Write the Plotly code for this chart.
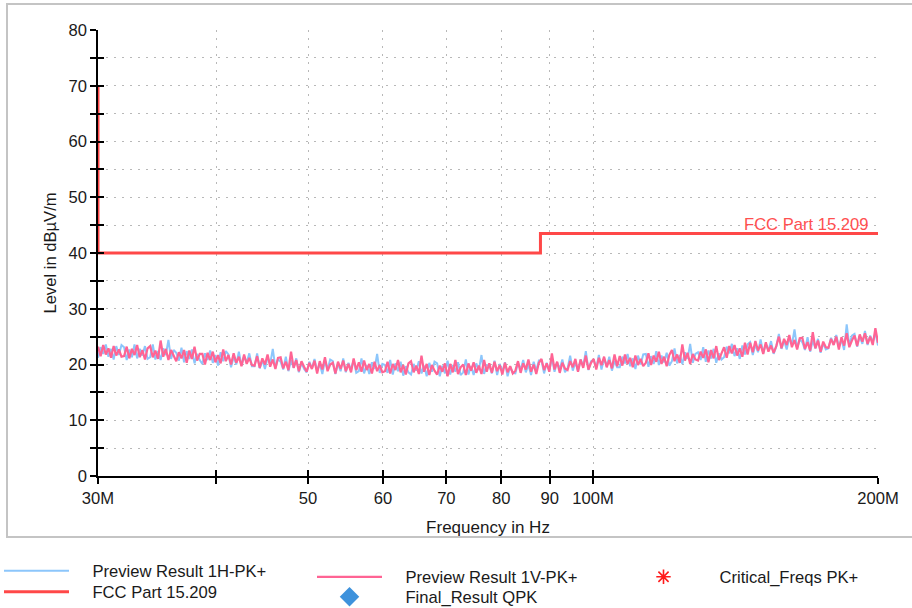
import numpy as np
import plotly.graph_objects as go

# ---- sweep data -----------------------------------------------------------
F_START = 30e6
F_STOP = 200e6
N_POINTS = 300
freq = np.geomspace(F_START, F_STOP, N_POINTS)

# Preview Result 1H-PK+ (dBuV/m)
level_1h = [
    21.2, 23.1, 21.9, 23.6, 21.4, 22.8, 20.9, 23.3, 21.7, 23.5,
    23.1, 20.8, 22.7, 21.3, 23.6, 21.1, 22.8, 21.6, 23.3, 21.0,
    21.3, 23.6, 20.9, 22.4, 20.8, 22.9, 21.7, 24.4, 21.0, 22.6,
    22.1, 20.7, 23.0, 20.4, 22.4, 21.0, 22.7, 20.2, 21.9, 20.8,
    20.1, 22.0, 20.8, 22.5, 20.3, 21.7, 19.8, 22.2, 20.6, 22.4,
    21.8, 19.5, 21.4, 20.0, 22.3, 19.8, 21.5, 20.3, 22.0, 19.7,
    19.7, 22.0, 19.3, 20.8, 19.2, 21.3, 20.1, 22.8, 19.4, 21.0,
    20.5, 19.1, 21.4, 18.8, 20.8, 19.4, 21.1, 18.6, 20.3, 19.2,
    18.6, 20.5, 19.3, 21.0, 18.8, 20.2, 18.3, 20.7, 19.1, 20.9,
    20.6, 18.3, 20.2, 18.8, 21.1, 18.6, 20.3, 19.1, 20.8, 18.5,
    18.8, 21.1, 18.4, 19.9, 18.3, 20.4, 19.2, 21.9, 18.5, 20.1,
    19.9, 18.5, 20.8, 18.2, 20.2, 18.8, 20.5, 18.0, 19.7, 18.6,
    18.2, 20.1, 18.9, 20.6, 18.4, 19.8, 17.9, 20.3, 18.7, 20.5,
    20.2, 17.9, 19.8, 18.4, 20.7, 18.2, 19.9, 18.7, 20.4, 18.1,
    18.6, 20.9, 18.2, 19.7, 18.1, 20.2, 19.0, 21.7, 18.3, 19.9,
    19.8, 18.4, 20.7, 18.1, 20.1, 18.7, 20.4, 17.9, 19.6, 18.5,
    18.4, 20.3, 19.1, 20.8, 18.6, 20.0, 18.1, 20.5, 18.9, 20.7,
    20.7, 18.4, 20.3, 18.9, 21.2, 18.7, 20.4, 19.2, 20.9, 18.6,
    19.3, 21.6, 18.9, 20.4, 18.8, 20.9, 19.7, 22.4, 19.0, 20.6,
    20.8, 19.4, 21.7, 19.1, 21.1, 19.7, 21.4, 18.9, 20.6, 19.5,
    19.5, 21.4, 20.2, 21.9, 19.7, 21.1, 19.2, 21.6, 20.0, 21.8,
    21.9, 19.6, 21.5, 20.1, 22.4, 19.9, 21.6, 20.4, 22.1, 19.8,
    20.6, 22.9, 20.2, 21.7, 20.1, 22.2, 21.0, 23.7, 20.3, 21.9,
    22.2, 20.8, 23.1, 20.5, 22.5, 21.1, 22.8, 20.3, 22.0, 20.9,
    21.3, 23.2, 22.0, 23.7, 21.5, 22.9, 21.0, 23.4, 21.8, 23.6,
    24.0, 21.7, 23.6, 22.2, 24.5, 22.0, 23.7, 22.5, 24.2, 21.9,
    23.2, 25.5, 22.8, 24.3, 22.7, 24.8, 23.6, 26.3, 22.9, 24.5,
    24.0, 22.6, 24.9, 22.3, 24.3, 22.9, 24.6, 22.1, 23.8, 22.7,
    22.9, 24.8, 23.6, 25.3, 23.1, 24.5, 22.6, 27.2, 23.4, 25.2,
    25.5, 23.2, 25.1, 23.7, 26.0, 23.5, 25.2, 24.0, 25.7, 23.4,
]

# Preview Result 1V-PK+ (dBuV/m)
level_1v = [
    23.2, 21.5, 23.5, 21.8, 22.9, 21.2, 23.3, 21.6, 22.7, 21.4,
    21.5, 23.2, 21.1, 22.8, 21.7, 23.5, 21.3, 22.6, 20.9, 22.9,
    23.3, 21.3, 22.5, 21.0, 24.3, 21.4, 22.8, 20.8, 22.6, 21.6,
    20.6, 22.2, 21.1, 22.6, 20.3, 22.5, 21.0, 23.2, 20.7, 21.9,
    21.9, 20.0, 22.1, 20.8, 22.3, 20.4, 21.7, 20.2, 22.7, 20.6,
    21.7, 20.0, 22.0, 20.3, 21.4, 19.7, 21.8, 20.1, 21.2, 19.9,
    19.8, 21.5, 19.4, 21.1, 20.0, 21.8, 19.6, 20.9, 19.2, 21.2,
    21.3, 19.3, 20.5, 19.0, 22.3, 19.4, 20.8, 18.8, 20.6, 19.6,
    18.7, 20.3, 19.2, 20.7, 18.4, 20.6, 19.1, 21.3, 18.8, 20.0,
    20.3, 18.4, 20.5, 19.2, 20.7, 18.8, 20.1, 18.6, 21.1, 19.0,
    20.4, 18.7, 20.7, 19.0, 20.1, 18.4, 20.5, 18.8, 19.9, 18.6,
    18.8, 20.5, 18.4, 20.1, 19.0, 20.8, 18.6, 19.9, 18.2, 20.2,
    20.6, 18.6, 19.8, 18.3, 21.6, 18.7, 20.1, 18.1, 19.9, 18.9,
    18.2, 19.8, 18.7, 20.2, 17.9, 20.1, 18.6, 20.8, 18.3, 19.5,
    20.0, 18.1, 20.2, 18.9, 20.4, 18.5, 19.8, 18.3, 20.8, 18.7,
    20.2, 18.5, 20.5, 18.8, 19.9, 18.2, 20.3, 18.6, 19.7, 18.4,
    18.9, 20.6, 18.5, 20.2, 19.1, 20.9, 18.7, 20.0, 18.3, 20.3,
    21.0, 19.0, 20.2, 18.7, 22.0, 19.1, 20.5, 18.5, 20.3, 19.3,
    19.0, 20.6, 19.5, 21.0, 18.7, 20.9, 19.4, 21.6, 19.1, 20.3,
    21.0, 19.1, 21.2, 19.9, 21.4, 19.5, 20.8, 19.3, 21.8, 19.7,
    21.5, 19.8, 21.8, 20.1, 21.2, 19.5, 21.6, 19.9, 21.0, 19.7,
    20.3, 22.0, 19.9, 21.6, 20.5, 22.3, 20.1, 21.4, 19.7, 21.7,
    22.6, 20.6, 21.8, 20.3, 23.6, 20.7, 22.1, 20.1, 21.9, 20.9,
    20.7, 22.3, 21.2, 22.7, 20.4, 22.6, 21.1, 23.3, 20.8, 22.0,
    23.1, 21.2, 23.3, 22.0, 23.5, 21.6, 22.9, 21.4, 23.9, 21.8,
    23.9, 22.2, 24.2, 22.5, 23.6, 21.9, 24.0, 22.3, 23.4, 22.1,
    23.3, 25.0, 22.9, 24.6, 23.5, 25.3, 23.1, 24.4, 22.7, 24.7,
    24.8, 22.8, 24.0, 22.5, 25.8, 22.9, 24.3, 22.3, 24.1, 23.1,
    23.0, 24.6, 23.5, 25.0, 22.7, 24.9, 23.4, 25.6, 23.1, 24.3,
    25.2, 23.3, 25.4, 24.1, 25.6, 23.7, 25.0, 23.5, 26.5, 23.9,
]

# FCC Part 15.209 limit line (Hz, dBuV/m)
limit_freq = [30e6, 30e6, 88e6, 88e6, 200e6]
limit_level = [70.0, 40.0, 40.0, 43.5, 43.5]

# axis ticks
x_tickvals = [30e6, 40e6, 50e6, 60e6, 70e6, 80e6, 90e6, 100e6, 200e6]
x_ticktext = ["30M", "", "50", "60", "70", "80", "90", "100M", "200M"]
y_tickvals = [0, 10, 20, 30, 40, 50, 60, 70, 80]

# ---- styling --------------------------------------------------------------
FONT = "Liberation Sans, Arial, sans-serif"
TXT = "#1a1a1a"
FS = 16.6
C_1H = "#8cc6fb"
C_1V = "#ff6494"
C_LIM = "#ff4848"
GRID = "#b8b8b8"

W, H = 912, 608
ML, MR, MT, MB = 98, 34, 30, 132
PW, PH = W - ML - MR, H - MT - MB
PAD = "\u00a0" * 4  # gap between legend symbol and its label


def px_x(px):
    """page x pixel -> paper x"""
    return (px - ML) / PW


def px_y(px):
    """page y pixel -> paper y"""
    return (MT + PH - px) / PH


fig = go.Figure()

fig.add_trace(go.Scatter(
    x=freq, y=level_1h, mode="lines", name=PAD + "Preview Result 1H-PK+",
    line=dict(color=C_1H, width=2.0), legend="legend"))
fig.add_trace(go.Scatter(
    x=freq, y=level_1v, mode="lines", name=PAD + "Preview Result 1V-PK+",
    line=dict(color=C_1V, width=2.2), legend="legend2"))
fig.add_trace(go.Scatter(
    x=limit_freq, y=limit_level, mode="lines", name=PAD + "FCC Part 15.209",
    line=dict(color=C_LIM, width=3), legend="legend4"))
fig.add_trace(go.Scatter(
    x=[None], y=[None], mode="markers", name=PAD + "Final_Result QPK",
    marker=dict(symbol="diamond", size=15, color="#3e92dc"),
    legend="legend5", xaxis="x2", yaxis="y2"))
fig.add_trace(go.Scatter(
    x=[None], y=[None], mode="markers", name=PAD + "Critical_Freqs PK+",
    marker=dict(symbol="asterisk-open", size=12, color="#ff1a1a",
                line=dict(color="#ff1a1a", width=1.6)),
    legend="legend3"))

xr = [np.log10(F_START), np.log10(F_STOP)]
yr = [0, 80]

common_x = dict(type="log", range=xr, tickvals=x_tickvals, ticktext=x_ticktext,
                ticklen=6, tickwidth=1.5, tickcolor="#000", automargin=False)
common_y = dict(range=yr, tickvals=y_tickvals, ticklen=6, tickwidth=1.5,
                tickcolor="#000", automargin=False)

legend_common = dict(
    orientation="v", xanchor="left", yanchor="top",
    itemwidth=65, tracegroupgap=0, traceorder="normal",
    font=dict(size=FS, color=TXT), bgcolor="rgba(0,0,0,0)",
)

fig.update_layout(
    width=W, height=H,
    margin=dict(l=ML, r=MR, t=MT, b=MB, pad=0, autoexpand=False),
    paper_bgcolor="white", plot_bgcolor="white",
    font=dict(family=FONT, size=FS, color=TXT),
    xaxis=dict(
        **common_x, ticks="outside", layer="below traces",
        showline=True, linecolor="#000", linewidth=1.6,
        showgrid=True, gridcolor=GRID, gridwidth=1.4, griddash="2px,6px",
        zeroline=False,
        tickfont=dict(size=FS, color=TXT),
        title=dict(text="Frequency in Hz", font=dict(size=17, color=TXT), standoff=14),
    ),
    xaxis2=dict(
        **common_x, ticks="inside", overlaying="x", anchor="y",
        showticklabels=False, showgrid=False, showline=False, zeroline=False,
    ),
    yaxis=dict(
        **common_y, ticks="outside", layer="below traces",
        showline=True, linecolor="#000", linewidth=1.6,
        showgrid=True, gridcolor=GRID, gridwidth=1.4, griddash="2px,6px",
        zeroline=False,
        minor=dict(dtick=5, ticks="outside", ticklen=6, tickwidth=1.5,
                   tickcolor="#000", showgrid=True, gridcolor=GRID,
                   gridwidth=1.4, griddash="2px,6px"),
        tickfont=dict(size=FS, color=TXT),
        title=dict(text="Level in dBµV/m", font=dict(size=FS, color=TXT), standoff=8),
    ),
    yaxis2=dict(
        **common_y, ticks="inside", overlaying="y", anchor="x",
        minor=dict(dtick=5, ticks="inside", ticklen=6, tickwidth=1.5,
                   tickcolor="#000", showgrid=False),
        showticklabels=False, showgrid=False, showline=False, zeroline=False,
    ),
    showlegend=True,
    legend=dict(**legend_common, x=px_x(-1), y=px_y(553.5)),
    legend4=dict(**legend_common, x=px_x(-1), y=px_y(574.5)),
    legend2=dict(**legend_common, x=px_x(312), y=px_y(559.5)),
    legend5=dict(**legend_common, x=px_x(312), y=px_y(579.5)),
    legend3=dict(**legend_common, x=px_x(626), y=px_y(559.5)),
)

# label for the limit line
fig.add_annotation(
    x=np.log10(F_STOP), y=limit_level[-1], xref="x", yref="y",
    text="FCC Part 15.209", showarrow=False,
    xanchor="right", yanchor="middle", xshift=-7, yshift=9,
    font=dict(size=FS, color="#ff5050"),
)

# outer frame around the chart region
fig.add_shape(
    type="rect", xref="paper", yref="paper", layer="below",
    x0=px_x(7), x1=px_x(914), y0=px_y(537), y1=px_y(4),
    line=dict(color="#c4c4c4", width=2), fillcolor="rgba(0,0,0,0)",
)

fig.write_html("out.html")
